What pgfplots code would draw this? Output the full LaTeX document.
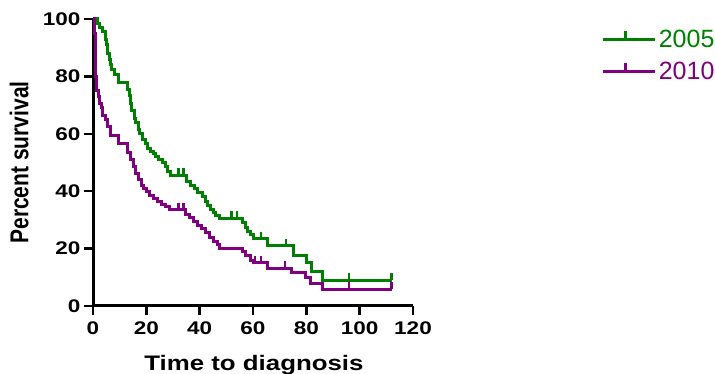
\documentclass[border=0pt]{standalone}
\usepackage{pgfplots}
\pgfplotsset{compat=1.18}
\usepackage{fontspec}
\setmainfont{Liberation Sans}
\newfontfamily\strfont{Liberation Sans}[FakeStretch=1.23]
\definecolor{kmgreen}{RGB}{0,128,0}
\definecolor{kmpurple}{RGB}{128,0,128}
\pgfdeclareplotmark{utick}{\pgfpathmoveto{\pgfpointorigin}\pgfpathlineto{\pgfpoint{0pt}{\pgfplotmarksize}}\pgfusepathqstroke}
\begin{document}
\begin{tikzpicture}
\useasboundingbox (0,0) rectangle (715pt,374pt);
\begin{axis}[
  at={(93pt,68pt)}, anchor=south west, scale only axis,
  width=320pt, height=287pt,
  xmin=0, xmax=120, ymin=0, ymax=100,
  axis x line*=bottom, axis y line*=left,
  axis line style={line width=3pt, black},
  xtick={0,20,...,120}, ytick={0,20,...,100},
  tick align=outside, major tick length=9pt,
  every tick/.style={black, line width=2.5pt},
  /pgf/number format/assume math mode=true,
  ticklabel style={font=\strfont\bfseries\fontsize{18.3}{20}\selectfont},
  xticklabel style={yshift=-3pt},
  xlabel={Time to diagnosis},
  xlabel style={font=\strfont\bfseries\fontsize{21}{24}\selectfont, at={(axis description cs:0.503,-0.223)}, anchor=base},
  ylabel={\scalebox{1}[1.23]{Percent survival}},
  ylabel style={font=\bfseries\fontsize{21}{24}\selectfont, at={(axis description cs:-0.231,0.5)}, anchor=center},
  clip=false,
  legend style={at={(1.58,0.873)}, anchor=west, draw=none, fill=none,
    font=\fontsize{25}{30}\selectfont, row sep=9pt},
  legend cell align=left,
  legend image code/.code={
    \path (0pt,0pt) -- (52pt,0pt);
    \draw[line width=3pt] (0pt,0pt) -- (45pt,0pt);
    \draw[line width=3pt] (22.5pt,0pt) -- (22.5pt,8pt);
  },
]
\addplot[kmgreen, line width=3pt, const plot] coordinates {
(0,100)(1.5,98.5)(2.5,97)(3.5,95.5)(4.5,93)(5,91)(5.5,88)(6,86)(6.5,84)(7,82.5)(8,80.5)(9.5,78)
(13,75.5)(13.5,73.5)(14,70.5)(14.5,68)(15.5,65.5)(16,64)(17,61.5)(17.5,60)(18.5,58)(19.5,56.5)
(20.5,55)(21.5,54)(22.5,53)(23.5,52)(24.5,51)(26,50)(27,48.5)(28,47)(29,45.5)
(35,43.5)(36.5,42)(38,41)(39,39.5)(41,38)(42,36.5)(43,35)(44,33.5)(45,32.5)(46,31.5)(47.5,30.5)
(56,29)(57,27.5)(58,26)(59,25)(60,23.5)(65.5,21)(75,17.6)(80,15)(82,12)(86,9)(112,9)
};
\addlegendentry{\textcolor{kmgreen}{2005}}
\addplot[kmpurple, line width=3pt, const plot] coordinates {
(0,100)(0.5,95)(0.8,88)(1,80)(1.3,75)(2,73)(2.6,70.5)(3.2,69)(3.7,66.5)(4.5,65)(5.6,62.5)(6.7,59.5)
(9.4,56.5)(13,53.5)(14,51)(15,48.5)(16,46)(17,44)(18,42)(19,41)(20,40)(21,38.5)(22.5,37.5)
(24,36.5)(25.5,35.5)(27,34.5)(28.5,33.5)(34.5,32)(36,31)(37.5,29.5)(39,28)(40.5,27)(42,25.5)
(43.5,24)(45,22.5)(46.5,21.5)(47.5,20)(56,19)(57,17.5)(59,16)(60,15)(65.5,13.2)(74.5,11.5)
(79.5,9.8)(81.5,7.7)(86,5.9)(112,5.9)
};
\addlegendentry{\textcolor{kmpurple}{2010}}
\addplot[kmgreen, line width=2.5pt, only marks, mark=utick, mark size=7pt, forget plot] coordinates {
(32,45.5)(34,45.5)(52,30.5)(54,30.5)(63,23.5)(72.4,21)(96,9)(112,9)
};
\addplot[kmpurple, line width=2.5pt, only marks, mark=utick, mark size=7pt, forget plot] coordinates {
(32,33.5)(34,33.5)(60.7,15)(63,15)(72,13.2)(96,5.9)(112,5.9)
};
\end{axis}
\end{tikzpicture}
\end{document}
